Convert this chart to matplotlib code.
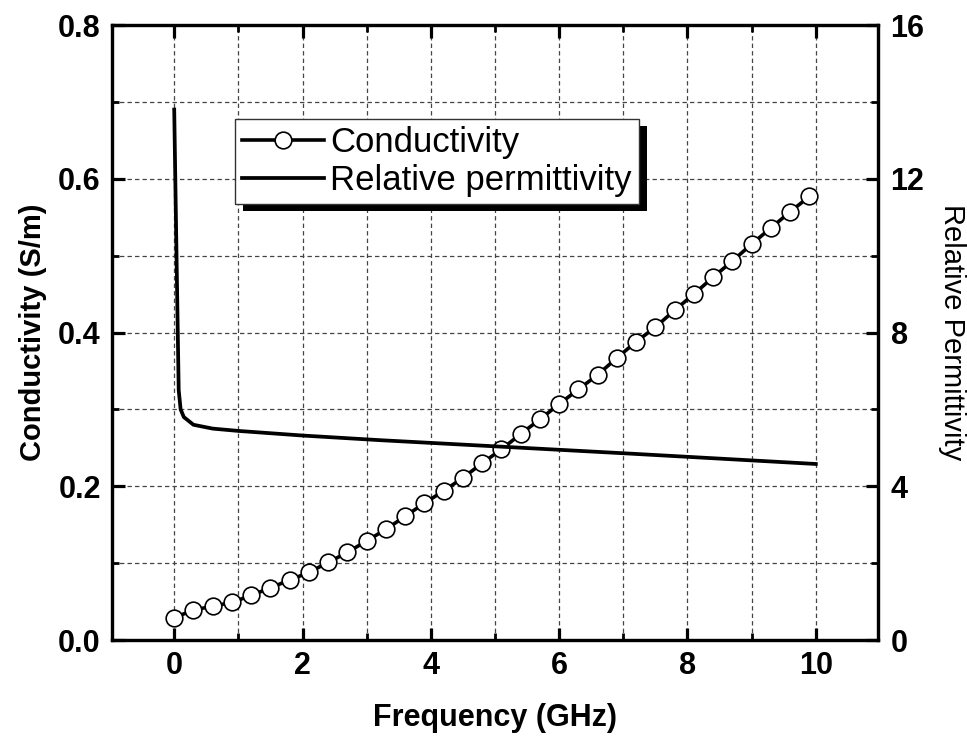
import matplotlib
matplotlib.use("Agg")
import matplotlib.pyplot as plt
from matplotlib.patches import Rectangle
from matplotlib.ticker import MultipleLocator

plt.rcParams['font.family'] = ['Liberation Sans', 'DejaVu Sans']

# conductivity measured every 0.3 GHz
freq_cond = [0.0, 0.3, 0.6, 0.9, 1.2, 1.5, 1.8, 2.1, 2.4, 2.7, 3.0, 3.3,
             3.6, 3.9, 4.2, 4.5, 4.8, 5.1, 5.4, 5.7, 6.0, 6.3, 6.6, 6.9,
             7.2, 7.5, 7.8, 8.1, 8.4, 8.7, 9.0, 9.3, 9.6, 9.9]
conductivity = [0.029, 0.039, 0.044, 0.049, 0.058, 0.068, 0.078, 0.088,
                0.101, 0.114, 0.129, 0.144, 0.161, 0.178, 0.194, 0.211,
                0.230, 0.248, 0.268, 0.287, 0.307, 0.326, 0.345, 0.367,
                0.388, 0.407, 0.429, 0.450, 0.472, 0.493, 0.515, 0.536,
                0.557, 0.577]

# relative permittivity
freq_perm = [0.0, 0.035, 0.07, 0.1, 0.15, 0.3, 0.6, 1.0, 2.0, 3.2, 5.1, 7.1, 10.0]
permittivity = [13.8, 10.1, 6.5, 6.0, 5.8, 5.6, 5.5, 5.44, 5.32, 5.2, 5.03, 4.85, 4.58]

fig = plt.figure(figsize=(9.67, 7.40), dpi=100)
ax = fig.add_axes([0.1158, 0.1351, 0.7922, 0.8311])
ax2 = ax.twinx()

ax.plot(freq_cond, conductivity, color='black', lw=2.6, marker='o', ms=12,
        mfc='white', mec='black', mew=1.2, label='Conductivity', zorder=3)
ax2.plot(freq_perm, permittivity, color='black', lw=2.7,
         label='Relative permittivity', zorder=3)

ax.set_xlim(-0.97, 10.97)
ax.set_ylim(0, 0.8)
ax2.set_ylim(0, 16)

ax.xaxis.set_major_locator(MultipleLocator(2))
ax.xaxis.set_minor_locator(MultipleLocator(1))
ax.yaxis.set_major_locator(MultipleLocator(0.2))
ax.yaxis.set_minor_locator(MultipleLocator(0.1))
ax.yaxis.set_major_formatter(plt.FormatStrFormatter('%.1f'))
ax2.yaxis.set_major_locator(MultipleLocator(4))
ax2.yaxis.set_minor_locator(MultipleLocator(2))

grid_kw = dict(color='#444444', lw=0.9, linestyle=(0, (3.5, 2.5)))
ax.grid(True, which='both', **grid_kw)
ax.set_axisbelow(True)

for a in (ax, ax2):
    for s in a.spines.values():
        s.set_linewidth(2.3)

ax.tick_params(axis='both', which='major', direction='in', length=9, width=2.3,
               labelsize=22, pad=8, top=True, right=False)
ax.tick_params(axis='both', which='minor', direction='in', length=5, width=2.0,
               top=True, right=False)
ax2.tick_params(axis='y', which='major', direction='in', length=9, width=2.3,
                labelsize=22, pad=9)
ax2.tick_params(axis='y', which='minor', direction='in', length=5, width=2.0)
for lab in ax.get_xticklabels() + ax.get_yticklabels() + ax2.get_yticklabels():
    lab.set_fontweight('bold')

ax.set_xlabel('Frequency (GHz)', fontsize=22, fontweight='bold', labelpad=16)
ax.set_ylabel('Conductivity (S/m)', fontsize=21, fontweight='bold', labelpad=8)
ax2.set_ylabel('Relative Permittivity', fontsize=21, rotation=270, labelpad=30)

h1, l1 = ax.get_legend_handles_labels()
h2, l2 = ax2.get_legend_handles_labels()
leg = ax2.legend(h1 + h2, l1 + l2, loc='upper left', bbox_to_anchor=(0.1606, 0.847),
                 borderaxespad=0, fontsize=25, frameon=True, fancybox=False,
                 handlelength=2.35, handletextpad=0.2, borderpad=0.2,
                 labelspacing=0.15, framealpha=1)
leg.get_frame().set_edgecolor('#333333')
leg.get_frame().set_linewidth(1.0)
leg.set_zorder(10)

# drop shadow behind the legend box
fig.canvas.draw()
bb = leg.get_window_extent().transformed(ax2.transAxes.inverted())
off_x = 8 / ax2.bbox.width
off_y = 7 / ax2.bbox.height
ax2.add_patch(Rectangle((bb.x0 + off_x, bb.y0 - off_y), bb.width, bb.height,
                        transform=ax2.transAxes, facecolor='black',
                        edgecolor='none', zorder=9, clip_on=False))

fig.savefig('out.png', dpi=100)
